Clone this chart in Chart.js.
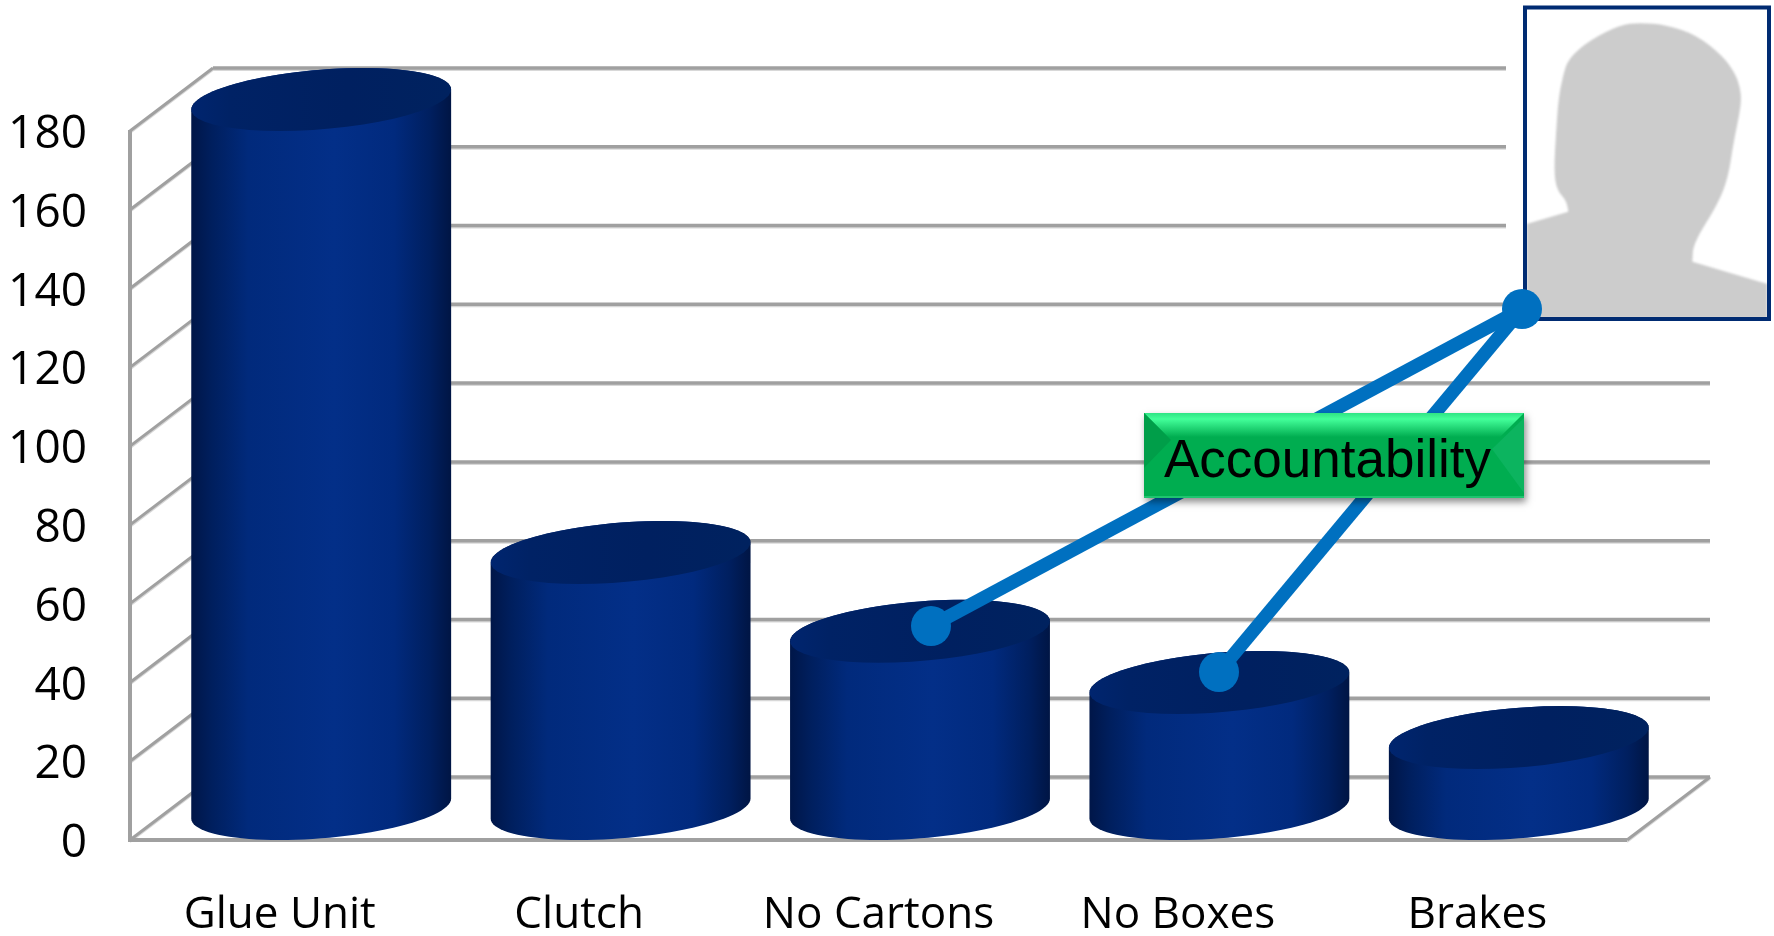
<!DOCTYPE html>
<html>
<head>
<meta charset="utf-8">
<title>Accountability</title>
<script src="https://cdn.jsdelivr.net/npm/chart.js@4"></script>
<style>
  html, body { margin: 0; padding: 0; background: #fff; }
  canvas { display: block; }
</style>
</head>
<body>
<canvas id="chart" width="1774" height="936"></canvas>
<script>
const categories = ['Glue Unit', 'Clutch', 'No Cartons', 'No Boxes', 'Brakes'];
const values = [180, 65, 45, 32, 18];
const yMax = 180;
const yStep = 20;

// oblique depth of the 3d box
const DEPTH_X = 83;
const DEPTH_Y = -63;

const GRID_COLOR = '#a0a0a0';

// the callout and photo sit on top of the chart, they are not data
const calloutFrom = [[931, 626], [1219, 672]];
const calloutTo = [1522, 309];
const photoBox = { left: 1525, top: 7.5, right: 1769, bottom: 319 };
const labelBox = { left: 1144, top: 413, right: 1524, bottom: 498 };
// third value: 1 marks a hard corner of the outline
const silhouette = [
  [140, 672, 1], [265, 635, 1], [262, 605], [230, 570], [222, 510], [228, 400], [235, 300], [248, 230], [265, 175],
  [330, 120], [420, 75], [480, 68], [560, 75], [650, 105], [730, 170], [765, 220], [780, 260], [785, 310],
  [760, 430], [745, 530], [715, 610], [640, 730], [637, 785, 1], [862, 852, 1], [862, 955, 1], [140, 955, 1]
];

function gridLine(ctx, x1, y1, x2, y2, width) {
  ctx.strokeStyle = '#d8d8d8';
  ctx.lineWidth = 2;
  ctx.beginPath();
  ctx.moveTo(x1, y1 + 2);
  ctx.lineTo(x2, y2 + 2);
  ctx.stroke();
  ctx.strokeStyle = GRID_COLOR;
  ctx.lineWidth = width;
  ctx.beginPath();
  ctx.moveTo(x1, y1);
  ctx.lineTo(x2, y2);
  ctx.stroke();
}

function drawWalls(chart) {
  const ctx = chart.ctx;
  const area = chart.chartArea;
  const y = chart.scales.y;
  for (let v = 0; v <= yMax; v += yStep) {
    const py = y.getPixelForValue(v);
    gridLine(ctx, area.left, py, area.left + DEPTH_X, py + DEPTH_Y, 3);
    gridLine(ctx, area.left + DEPTH_X, py + DEPTH_Y, area.right + DEPTH_X, py + DEPTH_Y, 3.5);
  }
  // floor edges and the left axis
  gridLine(ctx, area.right, area.bottom, area.right + DEPTH_X, area.bottom + DEPTH_Y, 3);
  ctx.strokeStyle = GRID_COLOR;
  ctx.lineWidth = 4;
  ctx.beginPath();
  ctx.moveTo(area.left, y.getPixelForValue(yMax) - 1);
  ctx.lineTo(area.left, area.bottom);
  ctx.lineTo(area.right, area.bottom);
  ctx.stroke();
}

function ellipsePath(ctx, cx, cy, a, from, to, first) {
  const n = 48;
  for (let i = 0; i <= n; i++) {
    const t = from + (to - from) * i / n;
    const px = cx + a * Math.cos(t) + (DEPTH_X / 2) * Math.sin(t);
    const py = cy + (DEPTH_Y / 2) * Math.sin(t);
    if (i === 0 && first) ctx.moveTo(px, py);
    else ctx.lineTo(px, py);
  }
}

function drawCylinder(ctx, bar) {
  const half = bar.width / 2;
  const a = Math.sqrt(half * half - (DEPTH_X / 2) * (DEPTH_X / 2));
  const t0 = Math.atan2(DEPTH_X / 2, a);
  const cx = bar.x + DEPTH_X / 2;
  const topY = bar.y + DEPTH_Y / 2;
  const baseY = bar.base + DEPTH_Y / 2;

  const side = ctx.createLinearGradient(cx - half, 0, cx + half, 0);
  side.addColorStop(0, '#001648');
  side.addColorStop(0.08, '#001f5e');
  side.addColorStop(0.22, '#012a7c');
  side.addColorStop(0.55, '#032f88');
  side.addColorStop(0.78, '#012a7e');
  side.addColorStop(0.92, '#001f5f');
  side.addColorStop(1, '#001544');
  ctx.fillStyle = side;
  ctx.beginPath();
  ellipsePath(ctx, cx, baseY, a, t0 + Math.PI, t0 + 2 * Math.PI, true);
  ellipsePath(ctx, cx, topY, a, t0, t0 + Math.PI, false);
  ctx.closePath();
  ctx.fill();

  const top = ctx.createLinearGradient(cx - half, 0, cx + half, 0);
  top.addColorStop(0, '#00256f');
  top.addColorStop(0.15, '#002265');
  top.addColorStop(0.6, '#002060');
  top.addColorStop(1, '#00225f');
  ctx.fillStyle = top;
  ctx.beginPath();
  ellipsePath(ctx, cx, topY, a, 0, 2 * Math.PI, true);
  ctx.closePath();
  ctx.fill();
}

function drawPhoto(ctx) {
  // white margin of the picture hides the end of the upper grid lines
  ctx.fillStyle = '#fff';
  ctx.fillRect(1506, 0, 268, 326);
  const pts = silhouette.map(function (p) { return [1480 + p[0] / 3, p[1] / 3, p[2]]; });
  ctx.save();
  ctx.filter = 'blur(1px)';
  ctx.fillStyle = '#cccccc';
  ctx.beginPath();
  ctx.moveTo(pts[0][0], pts[0][1]);
  for (let i = 1; i < pts.length; i++) {
    const p = pts[i];
    const next = pts[(i + 1) % pts.length];
    if (p[2]) ctx.lineTo(p[0], p[1]);
    else ctx.quadraticCurveTo(p[0], p[1], (p[0] + next[0]) / 2, (p[1] + next[1]) / 2);
  }
  ctx.closePath();
  ctx.fill();
  ctx.restore();
  ctx.strokeStyle = '#002b72';
  ctx.lineWidth = 4;
  ctx.strokeRect(photoBox.left, photoBox.top, photoBox.right - photoBox.left, photoBox.bottom - photoBox.top);
}

function drawCallout(ctx) {
  ctx.strokeStyle = '#0070c0';
  ctx.lineWidth = 13.5;
  calloutFrom.forEach(function (p) {
    ctx.beginPath();
    ctx.moveTo(p[0], p[1]);
    ctx.lineTo(calloutTo[0], calloutTo[1]);
    ctx.stroke();
  });
  ctx.fillStyle = '#0070c0';
  calloutFrom.concat([calloutTo]).forEach(function (p) {
    ctx.beginPath();
    ctx.arc(p[0], p[1], 20, 0, 2 * Math.PI);
    ctx.fill();
  });

  const b = labelBox;
  const w = b.right - b.left;
  const h = b.bottom - b.top;
  ctx.save();
  ctx.shadowColor = 'rgba(0,0,0,0.45)';
  ctx.shadowBlur = 7;
  ctx.shadowOffsetX = 2;
  ctx.shadowOffsetY = 4;
  ctx.fillStyle = '#00ad50';
  ctx.fillRect(b.left, b.top, w, h);
  ctx.restore();

  // bevel: top band, then the two side triangles
  const bevel = ctx.createLinearGradient(0, b.top, 0, b.top + 24);
  bevel.addColorStop(0, '#2fe484');
  bevel.addColorStop(0.25, '#43ff9a');
  bevel.addColorStop(1, '#00ad50');
  ctx.fillStyle = bevel;
  ctx.beginPath();
  ctx.moveTo(b.left, b.top);
  ctx.lineTo(b.right, b.top);
  ctx.lineTo(b.right - 24, b.top + 24);
  ctx.lineTo(b.left + 24, b.top + 24);
  ctx.closePath();
  ctx.fill();
  ctx.fillStyle = '#009e49';
  ctx.beginPath();
  ctx.moveTo(b.left, b.top);
  ctx.lineTo(b.left + 27, b.top + 27);
  ctx.lineTo(b.left, b.top + 55);
  ctx.closePath();
  ctx.fill();
  ctx.fillStyle = '#0cb45f';
  ctx.beginPath();
  ctx.moveTo(b.right, b.top + 5);
  ctx.lineTo(b.right - 32, b.top + 36);
  ctx.lineTo(b.right, b.bottom - 5);
  ctx.closePath();
  ctx.fill();
  ctx.fillStyle = '#1fc46f';
  ctx.fillRect(b.left, b.bottom - 2, w, 2);

  ctx.fillStyle = '#000';
  ctx.font = '53px "Liberation Sans"';
  ctx.textAlign = 'left';
  ctx.textBaseline = 'alphabetic';
  ctx.fillText('Accountability', 1164, 477);
}

const cylinderPlugin = {
  id: 'cylinders',
  beforeDatasetsDraw(chart) {
    drawWalls(chart);
    const ctx = chart.ctx;
    chart.getDatasetMeta(0).data.forEach(function (bar) {
      drawCylinder(ctx, bar.getProps(['x', 'y', 'base', 'width'], true));
    });
  },
  afterDraw(chart) {
    drawPhoto(chart.ctx);
    drawCallout(chart.ctx);
  }
};

new Chart(document.getElementById('chart'), {
  type: 'bar',
  data: {
    labels: categories,
    datasets: [{
      data: values,
      backgroundColor: 'transparent',
      borderWidth: 0,
      categoryPercentage: 1,
      barPercentage: 0.868
    }]
  },
  options: {
    responsive: false,
    animation: false,
    layout: { padding: { left: 0, top: 131, right: 147, bottom: 0 } },
    plugins: { legend: { display: false }, title: { display: false }, tooltip: { enabled: false } },
    scales: {
      x: {
        grid: { display: false, drawTicks: false },
        border: { display: false },
        ticks: { color: '#000', font: { family: '"Open Sans"', size: 44 }, padding: 49, autoSkip: false, maxRotation: 0 },
        afterFit: function (scale) { scale.height = 96; }
      },
      y: {
        min: 0,
        max: yMax,
        grid: { display: false, drawTicks: false },
        border: { display: false },
        ticks: { color: '#000', font: { family: '"Open Sans"', size: 46 }, padding: 43, labelOffset: 4, stepSize: yStep },
        afterFit: function (scale) { scale.width = 130; }
      }
    }
  },
  plugins: [cylinderPlugin]
});
</script>
</body>
</html>
